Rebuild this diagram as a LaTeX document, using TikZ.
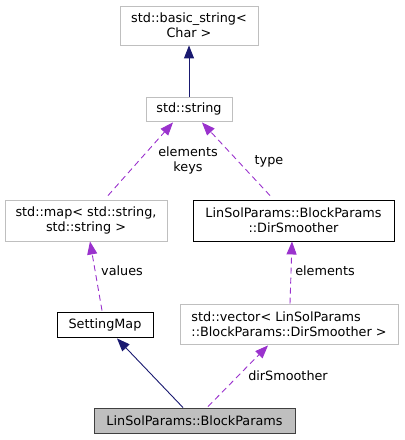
\documentclass[tikz,border=0pt]{standalone}
\usepackage{fontspec}
\setmainfont{DejaVu Sans}
\usetikzlibrary{arrows.meta,calc}

\definecolor{edgeblue}{HTML}{191970}
\definecolor{edgepurple}{HTML}{9A32CD}
\definecolor{extgray}{HTML}{BFBFBF}

\tikzset{
  cls/.style={draw=extgray,line width=0.9bp,inner sep=0pt,font=\fontsize{12.8bp}{15bp}\selectfont,align=center},
  doc/.style={cls,draw=black},
  cur/.style={cls,draw=black!75,fill=extgray},
  inh/.style={draw=edgeblue,line width=0.9bp,-{Triangle[length=13bp,width=10bp]}},
  use/.style={draw=edgepurple,line width=0.9bp,dashed,dash pattern=on 6bp off 4bp,-{Triangle[length=13bp,width=10bp]}},
  lbl/.style={font=\fontsize{12.8bp}{15bp}\selectfont,align=center,inner sep=0pt}
}

\begin{document}
\begin{tikzpicture}[x=1bp,y=-1bp]
\useasboundingbox (0,0) rectangle (404,440);
% classes
\node[cls,minimum width=138bp,minimum height=39bp] (bstr) at (189,25.5) {std::basic\_string\textless\\Char \textgreater};
\node[cls,minimum width=86bp,minimum height=24bp] (str) at (189,109) {std::string};
\node[cls,minimum width=162bp,minimum height=41bp] (map) at (86,220.5) {std::map\textless{} std::string,\\std::string \textgreater};
\node[doc,minimum width=201bp,minimum height=41bp] (dirs) at (293.5,220.5) {LinSolParams::BlockParams\\::DirSmoother};
\node[doc,minimum width=96bp,minimum height=25bp] (smap) at (105,324.5) {SettingMap};
\node[cls,minimum width=218bp,minimum height=40bp,align=left] (vec) at (289,324) {std::vector\textless{} LinSolParams\\::BlockParams::DirSmoother \textgreater};
\node[cur,minimum width=201bp,minimum height=25bp] (bp) at (194.5,420.5) {LinSolParams::BlockParams};
% edges
\draw[inh] (str.north) -- (bstr.south);
\draw[use] ($(map.north)+(22,-4)$) -- ($(str.south)+(-16,1)$);
\draw[use] ($(dirs.north)+(-23.5,-4)$) -- ($(str.south)+(13,1)$);
\draw[use] ($(smap.north)+(-3,-1)$) -- ($(map.south)+(4,0)$);
\draw[use] ($(vec.north)+(1,0)$) -- ($(dirs.south)+(-1.5,0)$);
\draw[inh] ($(bp.north)+(-11.5,0)$) -- ($(smap.south)+(12,1)$);
\draw[use] ($(bp.north)+(13.5,-1)$) -- ($(vec.south)+(-21,1)$);
% labels
\node[lbl] (lkeys) at (188,160) {elements\\keys};
\node[lbl] (ltype) at (269,161) {type};
\node[lbl] (lvalues) at (122,271) {values};
\node[lbl] (lelem) at (325,271) {elements};
\node[lbl] (ldir) at (288,376) {dirSmoother};
\end{tikzpicture}
\end{document}
